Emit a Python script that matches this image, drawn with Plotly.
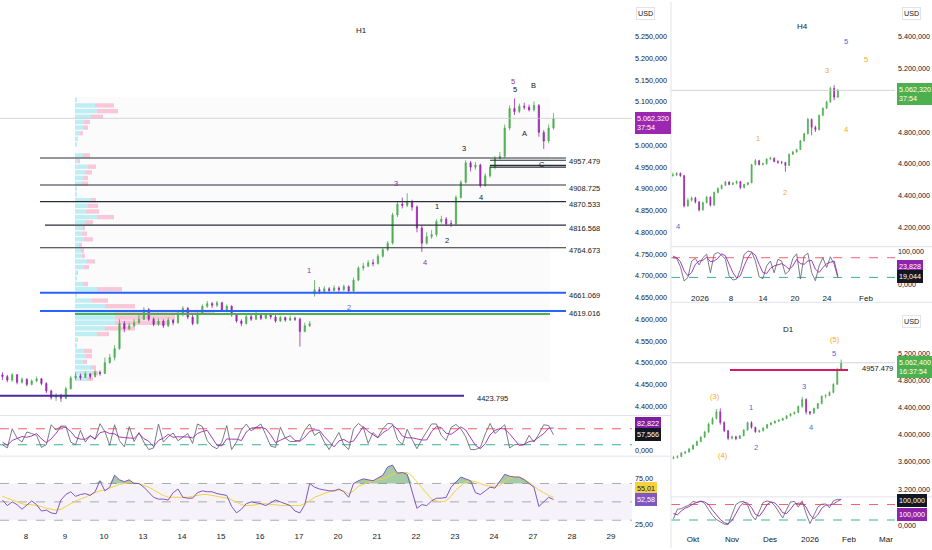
import numpy as np
import plotly.graph_objects as go

W, H = 932, 550
FONT = "Liberation Sans"
TXT = "#131722"
UP = "#4caf50"
DOWN = "#9c27b0"

# ---------------- H1 (8 bars per session day) ----------------
h1_days = ["8", "9", "10", "13", "14", "15", "16", "17", "20", "21", "22", "23", "24", "27", "28", "29"]
h1_first_open = 4472
h1_gap_open = [(64, 4658)]  # weekend gap
h1_close = [4468, 4460, 4472, 4455, 4462, 4450, 4458, 4463, 4452, 4435,
            4420, 4425, 4418, 4440, 4465, 4470, 4466, 4474, 4468, 4478,
            4475, 4500, 4512, 4532, 4590, 4578, 4585, 4592, 4600, 4622,
            4600, 4588, 4596, 4585, 4598, 4592, 4612, 4625, 4605, 4590,
            4612, 4630, 4636, 4632, 4638, 4620, 4630, 4610, 4596, 4590,
            4606, 4600, 4612, 4602, 4610, 4605, 4596, 4604, 4598, 4602,
            4600, 4572, 4585, 4590, 4668, 4664, 4670, 4666, 4672, 4668,
            4675, 4665, 4690, 4718, 4722, 4730, 4728, 4745, 4760, 4775,
            4840, 4865, 4862, 4870, 4858, 4810, 4775, 4790, 4795, 4825,
            4830, 4820, 4820, 4880, 4915, 4960, 4950, 4955, 4908, 4930,
            4950, 4970, 4975, 5040, 5085, 5078, 5090, 5088, 5082, 5092,
            5030, 5010, 5040, 5062.32]
h1_high = [4478, 4472, 4476, 4474, 4466, 4464, 4462, 4468, 4465, 4455,
           4438, 4430, 4428, 4445, 4470, 4478, 4475, 4480, 4476, 4484,
           4482, 4512, 4520, 4540, 4600, 4596, 4592, 4600, 4610, 4628,
           4626, 4604, 4602, 4600, 4604, 4600, 4618, 4630, 4628, 4610,
           4616, 4634, 4642, 4640, 4642, 4640, 4634, 4632, 4614, 4600,
           4610, 4612, 4618, 4614, 4614, 4612, 4610, 4608, 4606, 4608,
           4606, 4604, 4592, 4596, 4690, 4674, 4676, 4674, 4678, 4676,
           4680, 4678, 4696, 4722, 4730, 4736, 4738, 4750, 4765, 4780,
           4845, 4870, 4880, 4890, 4875, 4862, 4815, 4800, 4805, 4830,
           4838, 4835, 4828, 4885, 4920, 4966, 4964, 4962, 4958, 4936,
           4955, 4975, 4985, 5048, 5092, 5108, 5096, 5098, 5094, 5101,
           5095, 5035, 5048, 5074]
h1_low = [4460, 4455, 4456, 4450, 4452, 4446, 4448, 4455, 4448, 4430,
          4415, 4412, 4410, 4416, 4438, 4460, 4460, 4465, 4462, 4466,
          4470, 4474, 4498, 4505, 4530, 4570, 4575, 4582, 4590, 4598,
          4596, 4584, 4585, 4580, 4582, 4586, 4590, 4606, 4600, 4586,
          4588, 4610, 4626, 4626, 4628, 4618, 4616, 4606, 4592, 4584,
          4588, 4596, 4598, 4598, 4600, 4600, 4592, 4594, 4594, 4596,
          4596, 4537, 4570, 4582, 4652, 4658, 4660, 4660, 4664, 4662,
          4664, 4660, 4662, 4688, 4712, 4720, 4722, 4726, 4742, 4756,
          4772, 4835, 4855, 4858, 4850, 4800, 4755, 4772, 4785, 4790,
          4820, 4815, 4812, 4815, 4878, 4912, 4940, 4944, 4903, 4905,
          4926, 4945, 4968, 4972, 5035, 5070, 5074, 5082, 5078, 5078,
          5020, 4992, 5005, 5036]
h1_stoch_k = [20, 8, 80, 45, 30, 68, 62, 55, 10, 20,
              95, 75, 90, 90, 30, 20, 74, 30, 55, 40,
              99, 70, 18, 95, 35, 12, 88, 32, 66, 30,
              2, 8, 98, 30, 50, 64, 35, 50, 62, 25,
              98, 88, 35, 14, 5, 30, 92, 2, 30, 75,
              98, 72, 85, 98, 58, 15, 10, 86, 45, 32,
              32, 36, 75, 98, 55, 68, 30, 2, 35, 66,
              20, 2, 80, 100, 85, 25, 66, 48, 80, 100,
              98, 40, 20, 78, 40, 5, 40, 68, 98, 98,
              55, 36, 85, 96, 80, 50, 2, 2, 10, 60,
              100, 62, 80, 95, 8, 20, 22, 20, 55, 30,
              60, 95, 92, 57.566]
h1_stoch_d = [30, 18, 36, 44, 51, 48, 53, 62, 42, 28,
              42, 63, 87, 85, 70, 47, 41, 41, 53, 42,
              65, 70, 62, 61, 49, 47, 45, 44, 62, 43,
              33, 13, 36, 45, 59, 48, 50, 50, 49, 46,
              62, 70, 74, 46, 18, 16, 42, 41, 41, 36,
              68, 82, 85, 85, 80, 57, 28, 37, 47, 54,
              36, 33, 48, 70, 76, 74, 51, 33, 12, 34,
              40, 29, 34, 61, 88, 70, 59, 46, 65, 76,
              93, 79, 53, 46, 46, 41, 38, 38, 69, 88,
              84, 63, 59, 72, 87, 75, 44, 18, 5, 24,
              57, 74, 81, 79, 61, 41, 17, 21, 32, 35,
              48, 62, 82, 82.822]
h1_rsi = [52, 46, 50, 47, 42, 47, 51, 47, 40, 41,
          38, 37, 52, 58, 61, 56, 58, 59, 57, 61,
          73, 62, 66, 79, 74, 72, 74, 70, 70, 66,
          60, 55, 53, 53, 52, 60, 64, 55, 54, 54,
          60, 62, 61, 61, 59, 58, 57, 45, 38, 42,
          48, 50, 49, 48, 46, 49, 52, 50, 48, 46,
          40, 38, 47, 70, 66, 64, 63, 62, 62, 64,
          61, 55, 70, 73, 75, 74, 73, 76, 79, 88,
          90, 81, 82, 80, 60, 43, 47, 46, 51, 54,
          54, 55, 66, 72, 77, 75, 73, 60, 58, 62,
          66, 65, 72, 80, 78, 77, 77, 74, 70, 66,
          45, 50, 55, 52.58]
h1_rsi_ma = [56, 54, 52, 50, 48, 47, 47, 46, 45, 43,
             42, 41, 42, 45, 48, 51, 53, 55, 58, 60,
             62, 63, 65, 67, 69, 70, 71, 71, 70, 68,
             66, 63, 60, 57, 55, 55, 55, 55, 55, 56,
             57, 58, 58, 57, 56, 55, 54, 52, 50, 47,
             46, 46, 47, 48, 48, 47, 47, 46, 46, 46,
             46, 46, 48, 51, 55, 57, 59, 61, 62, 63,
             62, 59, 62, 67, 69, 71, 73, 74, 75, 77,
             80, 82, 82, 82, 78, 72, 66, 60, 53, 51,
             50, 51, 56, 63, 68, 72, 73, 72, 70, 68,
             67, 67, 68, 72, 76, 77, 77, 75, 71, 67,
             63, 60, 57, 55.01]

# volume profile rows (price, up volume, down volume)
vp_price = [5105, 5092, 5079, 5066, 5054, 5041, 5028, 5015, 5002, 4989,
            4977, 4964, 4951, 4938, 4925, 4912, 4900, 4887, 4874, 4861,
            4848, 4835, 4823, 4810, 4797, 4784, 4771, 4758, 4746, 4733,
            4720, 4707, 4694, 4681, 4669, 4656, 4643, 4630, 4617, 4604,
            4592, 4579, 4566, 4553, 4540, 4527, 4515, 4502, 4489, 4476, 4463]
vp_up = [2, 20, 22, 16, 9, 8, 5, 3, 2, 0,
         8, 3, 13, 10, 8, 7, 2, 2, 16, 13,
         11, 22, 10, 8, 7, 9, 4, 6, 7, 12,
         9, 2, 2, 8, 22, 2, 17, 30, 40, 40,
         40, 30, 22, 3, 2, 9, 11, 8, 16, 17, 12]
vp_down = [0, 19, 21, 12, 6, 5, 3, 0, 0, 0,
           7, 2, 8, 7, 5, 6, 0, 0, 5, 10,
           13, 17, 8, 2, 5, 9, 3, 3, 3, 8,
           5, 1, 0, 5, 25, 0, 16, 30, 100, 60,
           55, 30, 12, 0, 0, 8, 6, 4, 5, 6, 6]

# drawn levels
black_levels = [4971, 4908.725, 4870.533, 4816.568, 4764.673]
black_texts = ["4957.479", "4908.725", "4870.533", "4816.568", "4764.673"]
blue_levels = [4661.069, 4619.016]
blue_texts = ["4661.069", "4619.016"]
c_box_levels = [4966, 4954, 4950]
poc_level = 4612
support_level = 4423.795

h1_waves = [("1", 62.9, 4713, "#9c27b0"), ("2", 71.1, 4626, "#5c6bc0"), ("3", 80.7, 4912, "#9c27b0"),
            ("4", 86.6, 4731, "#9c27b0"), ("5", 104.7, 5147, "#9c27b0"),
            ("1", 89.1, 4859, TXT), ("2", 91.2, 4782, TXT), ("3", 94.6, 4994, TXT),
            ("4", 98.1, 4880, TXT), ("5", 105.1, 5129, TXT), ("A", 107.1, 5028, TXT),
            ("B", 109.0, 5138, TXT), ("C", 110.6, 4955, TXT)]

# ---------------- H4 ----------------
h4_dates = ["2026", "8", "14", "20", "24", "Feb"]
h4_first_open = 4525
h4_close = [4530, 4540, 4525, 4335, 4370, 4385, 4360, 4310, 4355, 4390,
            4340, 4420, 4445, 4465, 4485, 4470, 4478, 4488, 4450, 4470,
            4480, 4595, 4620, 4595, 4600, 4630, 4635, 4615, 4610, 4608,
            4590, 4660, 4675, 4690, 4745, 4790, 4880, 4830, 4815, 4905,
            4950, 4990, 5075, 5020, 5062.32]
h4_high = [4545, 4548, 4545, 4530, 4385, 4395, 4392, 4365, 4362, 4398,
           4395, 4425, 4452, 4470, 4492, 4490, 4485, 4495, 4492, 4474,
           4485, 4600, 4630, 4625, 4608, 4635, 4645, 4640, 4622, 4618,
           4612, 4665, 4682, 4695, 4750, 4795, 4890, 4885, 4840, 4910,
           4955, 4998, 5085, 5095, 5070]
h4_low = [4520, 4522, 4518, 4325, 4330, 4362, 4350, 4300, 4305, 4350,
          4330, 4335, 4415, 4438, 4460, 4465, 4465, 4470, 4440, 4445,
          4465, 4478, 4590, 4590, 4590, 4596, 4625, 4610, 4600, 4598,
          4550, 4588, 4655, 4670, 4688, 4740, 4785, 4780, 4800, 4810,
          4900, 4945, 4985, 5000, 5015]
h4_stoch_k = [80, 78, 53, 9, 20, 70, 78, 58, 80, 91,
              34, 90, 96, 88, 75, 25, 12, 15, 44, 90,
              100, 98, 70, 22, 16, 55, 70, 34, 75, 70,
              30, 40, 78, 92, 15, 85, 94, 35, 10, 55,
              80, 50, 83, 60, 19.044]
h4_stoch_d = [85, 80, 68, 40, 25, 35, 60, 70, 72, 82,
              68, 70, 78, 92, 86, 60, 35, 18, 25, 55,
              80, 96, 88, 60, 35, 32, 48, 55, 58, 62,
              55, 45, 55, 75, 62, 60, 70, 72, 45, 35,
              50, 62, 66, 70, 23.828]
h4_waves = [("5", 46.2, 5369, "#3f6ad8"), ("5", 51.5, 5256, "#f5a623"), ("3", 41.1, 5187, "#f5a623"),
            ("1", 22.7, 4762, "#f5a623"), ("4", 46.2, 4819, "#f5a623"), ("2", 29.9, 4419, "#f5a623"),
            ("4", 1.4, 4206, "#3f6ad8")]

# ---------------- D1 ----------------
d1_months = ["Okt", "Nov", "Des", "2026", "Feb", "Mar"]
d1_first_open = 3650
d1_close = [3665, 3680, 3730, 3745, 3790, 3845, 3900, 3965, 4040, 4160,
            4240, 4340, 4180, 4060, 3950, 3970, 3945, 3985, 4070, 4180,
            4110, 4045, 4060, 4100, 4150, 4175, 4200, 4215, 4240, 4280,
            4310, 4330, 4420, 4520, 4340, 4320, 4390, 4460, 4570, 4580,
            4625, 4745, 4960, 5062.4]
d1_high = [3690, 3700, 3745, 3760, 3805, 3860, 3915, 3980, 4060, 4180,
           4260, 4380, 4390, 4200, 4070, 3990, 3985, 4000, 4080, 4195,
           4200, 4120, 4075, 4110, 4160, 4190, 4210, 4230, 4255, 4290,
           4320, 4345, 4430, 4560, 4540, 4350, 4400, 4470, 4580, 4600,
           4640, 4760, 4990, 5110]
d1_low = [3640, 3650, 3675, 3720, 3740, 3780, 3835, 3890, 3955, 4030,
          4150, 4230, 4150, 4040, 3920, 3930, 3920, 3940, 3980, 4060,
          4090, 4030, 4030, 4050, 4090, 4140, 4165, 4195, 4205, 4230,
          4270, 4300, 4320, 4400, 4300, 4290, 4310, 4380, 4450, 4540,
          4570, 4610, 4740, 4950]
d1_stoch_k = [25, 62, 64, 70, 78, 92, 88, 94, 84, 60,
              38, 22, 12, 4, 2, 45, 80, 90, 92, 78,
              40, 20, 55, 88, 94, 90, 75, 50, 28, 60,
              90, 92, 70, 94, 45, 6, 35, 70, 81, 82,
              68, 94, 100, 100]
d1_stoch_d = [45, 40, 55, 66, 72, 82, 88, 92, 90, 80,
              58, 38, 22, 10, 5, 18, 45, 72, 88, 86,
              68, 42, 35, 55, 80, 90, 86, 70, 48, 45,
              62, 82, 85, 85, 70, 40, 25, 40, 65, 78,
              78, 82, 92, 100]
d1_level = 4957.479
d1_waves = [("(5)", 41.4, 5405, "#f5a623"), ("5", 41.2, 5200, "#3f6ad8"), ("(3)", 10.6, 4570, "#f5a623"),
            ("1", 19.9, 4409, "#3f6ad8"), ("3", 33.5, 4717, "#3f6ad8"), ("(4)", 12.7, 3692, "#f5a623"),
            ("2", 21.1, 3809, "#3f6ad8"), ("4", 35.3, 4102, "#3f6ad8")]


# ---------------- helpers ----------------
def fx(px):
    return px / W


def fy(py):
    return 1 - py / H


def opens(first, close, gaps=()):
    o = [first] + list(close[:-1])
    for i, v in gaps:
        o[i] = v
    return o


H1_RANGE = [-0.5, 129.1]   # bar units over 0..632 px
H4_RANGE = [-0.5, 59.23]
D1_RANGE = [-0.64, 56.8]


def h1_px(px):
    return H1_RANGE[0] + px / 632 * (H1_RANGE[1] - H1_RANGE[0])


def r_px(px, rng):
    return rng[0] + (px - 671) / 224 * (rng[1] - rng[0])


fig = go.Figure()

# volume profile (base axis x / y)
fig.add_trace(go.Bar(x=vp_up, y=vp_price, base=0, orientation="h", width=10,
                     marker=dict(color="rgba(178,235,242,0.85)", line_width=0),
                     xaxis="x", yaxis="y", hoverinfo="skip"))
fig.add_trace(go.Bar(x=vp_down, y=vp_price, base=vp_up, orientation="h", width=10,
                     marker=dict(color="rgba(248,187,208,0.8)", line_width=0),
                     xaxis="x", yaxis="y", hoverinfo="skip"))


def candles(xs, o, h, l, c, xa, ya):
    return go.Candlestick(x=xs, open=o, high=h, low=l, close=c, xaxis=xa, yaxis=ya,
                          increasing=dict(line=dict(color=UP, width=0.8), fillcolor=UP),
                          decreasing=dict(line=dict(color=DOWN, width=0.8), fillcolor=DOWN),
                          whiskerwidth=0, hoverinfo="skip", showlegend=False)


h1_x = list(range(len(h1_close)))
fig.add_trace(candles(h1_x, opens(h1_first_open, h1_close, h1_gap_open), h1_high, h1_low, h1_close, "x9", "y"))

# H1 stochastic
fig.add_trace(go.Scatter(x=h1_x, y=h1_stoch_k, mode="lines", line=dict(color="#6a6d78", width=0.9),
                         xaxis="x2", yaxis="y2", hoverinfo="skip"))
fig.add_trace(go.Scatter(x=h1_x, y=h1_stoch_d, mode="lines", line=dict(color="#9c27b0", width=0.9),
                         xaxis="x2", yaxis="y2", hoverinfo="skip"))

# H1 RSI with overbought fill
fig.add_trace(go.Scatter(x=h1_x, y=[70] * len(h1_x), mode="lines", line=dict(width=0, color="rgba(0,0,0,0)"),
                         xaxis="x3", yaxis="y3", hoverinfo="skip"))
fig.add_trace(go.Scatter(x=h1_x, y=np.maximum(h1_rsi, 70), mode="lines", line=dict(width=0, color="rgba(0,0,0,0)"),
                         fill="tonexty", fillcolor="rgba(56,142,60,0.45)", xaxis="x3", yaxis="y3", hoverinfo="skip"))
fig.add_trace(go.Scatter(x=h1_x, y=h1_rsi_ma, mode="lines", line=dict(color="#f5d142", width=1),
                         xaxis="x3", yaxis="y3", hoverinfo="skip"))
fig.add_trace(go.Scatter(x=h1_x, y=h1_rsi, mode="lines", line=dict(color="#7e57c2", width=1),
                         xaxis="x3", yaxis="y3", hoverinfo="skip"))

# H4
h4_x = list(range(len(h4_close)))
fig.add_trace(candles(h4_x, opens(h4_first_open, h4_close), h4_high, h4_low, h4_close, "x4", "y4"))
fig.add_trace(go.Scatter(x=h4_x, y=h4_stoch_k, mode="lines", line=dict(color="#6a6d78", width=0.9),
                         xaxis="x5", yaxis="y5", hoverinfo="skip"))
fig.add_trace(go.Scatter(x=h4_x, y=h4_stoch_d, mode="lines", line=dict(color="#9c27b0", width=0.9),
                         xaxis="x5", yaxis="y5", hoverinfo="skip"))

# D1
d1_x = list(range(len(d1_close)))
fig.add_trace(candles(d1_x, opens(d1_first_open, d1_close), d1_high, d1_low, d1_close, "x6", "y6"))
fig.add_trace(go.Scatter(x=d1_x, y=d1_stoch_k, mode="lines", line=dict(color="#6a6d78", width=0.9),
                         xaxis="x7", yaxis="y7", hoverinfo="skip"))
fig.add_trace(go.Scatter(x=d1_x, y=d1_stoch_d, mode="lines", line=dict(color="#9c27b0", width=0.9),
                         xaxis="x7", yaxis="y7", hoverinfo="skip"))

# ---------------- axes ----------------
hid_x = dict(showgrid=False, zeroline=False, showline=False, showticklabels=False, ticks="",
             fixedrange=True, rangeslider=dict(visible=False))
tick_font = dict(family=FONT, size=7.2, color=TXT)
base_y = dict(showgrid=False, zeroline=False, showline=False, side="right", ticks="", ticklen=0,
              tickfont=tick_font, fixedrange=True, ticklabelstandoff=2)
date_x = dict(showgrid=False, zeroline=False, showline=False, ticks="", ticklen=0, fixedrange=True,
              tickfont=dict(family=FONT, size=8, color=TXT), rangeslider=dict(visible=False),
              ticklabelstandoff=2)

h1_dom = [0, fx(632)]
r_dom = [fx(671), fx(895)]
h1_tick_pos = [h1_px(26 + 39 * i) for i in range(len(h1_days))]
h4_tick_pos = [r_px(p, H4_RANGE) for p in [700, 731, 763, 795, 827, 866]]
d1_tick_pos = [r_px(p, D1_RANGE) for p in [693, 732, 770, 810, 849, 886]]

# price ticks hidden behind the last-price tags in the reference are left out
h1_ticks = [v for v in range(4400, 5251, 50) if v != 5050]
h4_ticks = [v for v in range(4200, 5401, 200) if v != 5000]

fig.update_layout(
    width=W, height=H, margin=dict(l=0, r=0, t=0, b=0),
    paper_bgcolor="white", plot_bgcolor="white", showlegend=False,
    separators=",.", barmode="overlay", boxgap=0.65, font=dict(family=FONT, color=TXT),
    xaxis=dict(hid_x, domain=h1_dom, anchor="y", range=[-75, 557]),
    xaxis9=dict(hid_x, overlaying="x", anchor="y", range=H1_RANGE),
    yaxis=dict(base_y, domain=[fy(416), 1], anchor="x", range=[4379.7, 5330],
               tickvals=h1_ticks, tickformat=",.3f"),
    xaxis2=dict(hid_x, domain=h1_dom, anchor="y2", range=H1_RANGE),
    yaxis2=dict(base_y, domain=[fy(457), fy(417)], anchor="x2", range=[-21, 128],
                tickvals=[0], tickformat=",.3f"),
    xaxis3=dict(date_x, domain=h1_dom, anchor="y3", range=H1_RANGE,
                tickvals=h1_tick_pos, ticktext=h1_days),
    yaxis3=dict(base_y, domain=[fy(530), fy(458)], anchor="x3", range=[21.4, 99.2],
                tickvals=[25, 75], tickformat=",.2f"),
    xaxis4=dict(hid_x, domain=r_dom, anchor="y4", range=H4_RANGE),
    yaxis4=dict(base_y, domain=[fy(246), 1], anchor="x4", range=[4081, 5619],
                tickvals=h4_ticks, tickformat=",.3f"),
    xaxis5=dict(date_x, domain=r_dom, anchor="y5", range=H4_RANGE,
                tickvals=h4_tick_pos, ticktext=h4_dates),
    yaxis5=dict(base_y, domain=[fy(290), fy(248)], anchor="x5", range=[-18, 109],
                tickvals=[0, 100], tickformat=",.3f"),
    xaxis6=dict(hid_x, domain=r_dom, anchor="y6", range=D1_RANGE),
    yaxis6=dict(base_y, domain=[fy(498), fy(306)], anchor="x6", range=[3092, 5903],
                tickvals=list(range(3200, 5201, 400)), tickformat=",.3f"),
    xaxis7=dict(date_x, domain=r_dom, anchor="y7", range=D1_RANGE, ticklabelstandoff=5,
                tickvals=d1_tick_pos, ticktext=d1_months),
    yaxis7=dict(base_y, domain=[fy(530), fy(499)], anchor="x7", range=[-11.5, 107.7],
                tickvals=[0], tickformat=",.3f"),
)

# ---------------- shapes ----------------
shapes = []


def hline(xref, yref, x0, x1, y, color, width=1, dash="solid", layer="above"):
    shapes.append(dict(type="line", xref=xref, yref=yref, x0=x0, x1=x1, y0=y, y1=y,
                       line=dict(color=color, width=width, dash=dash), layer=layer))


# profile background box
shapes.append(dict(type="rect", xref="x9", yref="y", x0=h1_px(75), x1=h1_px(550), y0=4455, y1=5112,
                   fillcolor="rgba(120,123,134,0.03)", line=dict(width=0), layer="below"))
# last price lines
hline("paper", "y", 0, fx(632), h1_close[-1], "#c9cbd1", 0.8)
hline("paper", "y4", fx(671), fx(895), h4_close[-1], "#c9cbd1", 0.8)
hline("paper", "y6", fx(671), fx(895), d1_close[-1], "#c9cbd1", 0.8)

for i, lv in enumerate(black_levels):
    hline("x9", "y", h1_px(45 if i == 3 else 40), h1_px(566), lv, "#2a2e39", 1.1)
for lv in c_box_levels:
    hline("x9", "y", h1_px(490), h1_px(566), lv, "#2a2e39", 1.1)
for lv in blue_levels:
    hline("x9", "y", h1_px(40), h1_px(566), lv, "#2962ff", 2)
hline("x9", "y", h1_px(75), h1_px(550), poc_level, "#4caf50", 2)
hline("x9", "y", H1_RANGE[0], h1_px(464), support_level, "#4a2a9c", 2)
hline("x6", "y6", r_px(730, D1_RANGE), r_px(848, D1_RANGE), d1_level, "#d81b60", 2)

# oscillator guides
shapes.append(dict(type="rect", xref="x3", yref="y3", x0=H1_RANGE[0], x1=H1_RANGE[1], y0=30, y1=70,
                   fillcolor="rgba(126,87,194,0.08)", line=dict(width=0), layer="below"))
for lv in [70, 50, 30]:
    hline("x3", "y3", H1_RANGE[0], H1_RANGE[1], lv, "#9598a1", 0.8, "dash", "below")
for xa, ya, rng in [("x2", "y2", H1_RANGE), ("x5", "y5", H4_RANGE), ("x7", "y7", D1_RANGE)]:
    hline(xa, ya, rng[0], rng[1], 80, "#f23645", 0.8, "dash", "below")
    hline(xa, ya, rng[0], rng[1], 20, "#089981", 0.8, "dash", "below")

# pane separators
sep = "#e0e3eb"
for py, x0, x1 in [(416.5, 0, 671), (457.5, 0, 671), (246.5, 671, W), (302.5, 671, W), (498.5, 671, W)]:
    shapes.append(dict(type="line", xref="paper", yref="paper", x0=fx(x0), x1=fx(x1), y0=fy(py), y1=fy(py),
                       line=dict(color=sep, width=1)))
shapes.append(dict(type="line", xref="paper", yref="paper", x0=fx(671), x1=fx(671), y0=0, y1=1,
                   line=dict(color=sep, width=1)))
fig.update_layout(shapes=shapes)

# ---------------- annotations ----------------
ann = []


def label(text, x, y, xref, yref, color, size=7.5, **kw):
    ann.append(dict(text=text, x=x, y=y, xref=xref, yref=yref, showarrow=False,
                    font=dict(family=FONT, size=size, color=color), **kw))


def box(px, py, text, bg, fg="white", border=None):
    ann.append(dict(text=text, x=fx(px), y=fy(py), xref="paper", yref="paper", showarrow=False,
                    xanchor="left", yanchor="middle", align="left", bgcolor=bg,
                    bordercolor=border or bg, borderwidth=1, borderpad=1,
                    font=dict(family=FONT, size=7.2, color=fg)))


for t, x, y, c in h1_waves:
    label(t, x, y, "x9", "y", c)
for t, x, y, c in h4_waves:
    label(t, x, y, "x4", "y4", c)
for t, x, y, c in d1_waves:
    label(t, x, y, "x6", "y6", c)

for lv, t in zip(black_levels + blue_levels, black_texts + blue_texts):
    label(t, h1_px(567), lv, "x9", "y", TXT, xanchor="left", yshift=-3)
label("4423.795", h1_px(475), support_level, "x9", "y", TXT, xanchor="left", yshift=-3)
label("4957.479", r_px(860, D1_RANGE), d1_level, "x6", "y6", TXT, xanchor="left", yshift=1)

label("H1", fx(361), fy(29), "paper", "paper", TXT, 8, yanchor="middle")
label("H4", fx(810), fy(25), "paper", "paper", TXT, 8, yanchor="middle")
label("D1", fx(796), fy(330), "paper", "paper", TXT, 8, yanchor="middle")

box(636, 12, "USD", "white", TXT, "#e0e3eb")
box(635, 122, "5.062,320<br>37:54", "#9c27b0")
box(635, 425, "82,822", "#7b1fa2")
box(635, 436, "57,566", "#131722")
box(635, 490, "55,01", "#f5d142", TXT)
box(635, 501, "52,58", "#7e57c2")

box(902, 12, "USD", "white", TXT, "#e0e3eb")
box(897, 93, "5.062,320<br>37:54", "#4caf50")
box(897, 266, "23,828", "#8e24aa")
box(897, 277, "19,044", "#131722")

box(902, 322, "USD", "white", TXT, "#e0e3eb")
box(897, 368, "5.062,400<br>16:37:54", "#4caf50")
box(897, 502, "100,000", "#131722")
box(897, 516, "100,000", "#8e24aa")

fig.update_layout(annotations=ann)

# page body has a default 8px margin; remove it so the figure fills the window
fig.write_html("out.html", config={"displayModeBar": False},
               post_script="document.body.style.margin='0';document.body.style.overflow='hidden';")
